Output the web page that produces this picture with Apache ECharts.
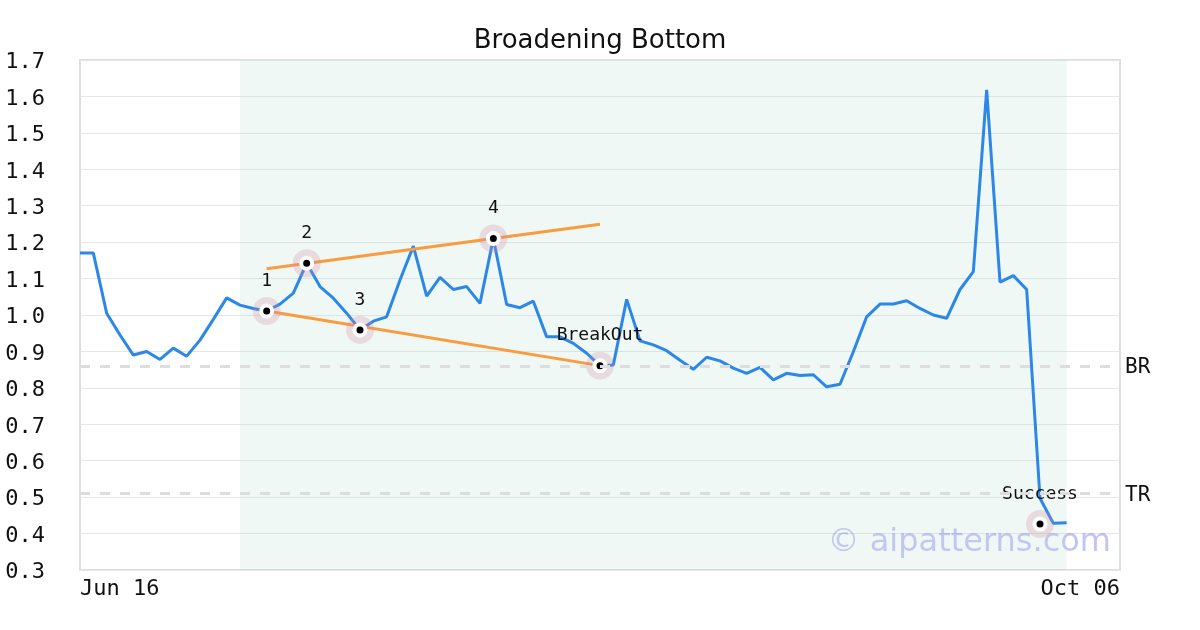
<!DOCTYPE html>
<html>
<head>
<meta charset="utf-8">
<script src="https://cdn.jsdelivr.net/npm/echarts@6/dist/echarts.min.js"></script>
<style>html,body{margin:0;padding:0;background:#fff}#chart{width:1200px;height:630px}</style>
</head>
<body>
<div id="chart"></div>
<script>
const dates = [
 "Jun 16","Jun 17","Jun 18","Jun 19","Jun 20","Jun 23","Jun 24","Jun 25","Jun 26","Jun 27","Jun 30",
 "Jul 01","Jul 02","Jul 03","Jul 07","Jul 08","Jul 09","Jul 10","Jul 11","Jul 14","Jul 15","Jul 16","Jul 17","Jul 18","Jul 21","Jul 22","Jul 23","Jul 24","Jul 25","Jul 28","Jul 29","Jul 30","Jul 31",
 "Aug 01","Aug 04","Aug 05","Aug 06","Aug 07","Aug 08","Aug 11","Aug 12","Aug 13","Aug 14","Aug 15","Aug 18","Aug 19","Aug 20","Aug 21","Aug 22","Aug 25","Aug 26","Aug 27","Aug 28","Aug 29",
 "Sep 02","Sep 03","Sep 04","Sep 05","Sep 08","Sep 09","Sep 10","Sep 11","Sep 12","Sep 15","Sep 16","Sep 17","Sep 18","Sep 19","Sep 22","Sep 23","Sep 24","Sep 25","Sep 26","Sep 29","Sep 30",
 "Oct 01","Oct 02","Oct 03","Oct 06"
];
const prices = [
 1.17,1.17,1.005,0.945,0.89,0.90,0.878,0.909,0.887,0.931,
 0.988,1.047,1.027,1.018,1.011,1.03,1.06,1.142,1.078,1.046,
 1.005,0.959,0.983,0.995,1.096,1.189,1.052,1.103,1.07,1.078,
 1.032,1.21,1.029,1.02,1.038,0.94,0.94,0.922,0.895,0.861,
 0.863,1.043,0.929,0.918,0.902,0.876,0.851,0.884,0.874,0.854,
 0.84,0.856,0.822,0.84,0.834,0.836,0.803,0.81,0.899,0.995,
 1.03,1.03,1.039,1.018,1.0,0.991,1.07,1.119,1.618,1.09,
 1.108,1.07,0.497,0.428,0.43
];
const pointIdx = [14, 17, 21, 31, 39, 72];
const pointVal = [1.011, 1.142, 0.959, 1.21, 0.861, 0.426];
const pointLabel = ["1", "2", "3", "4", "BreakOut", "Success"];
const upperLine = [[14, 1.127], [39, 1.249]];
const lowerLine = [[14, 1.011], [39, 0.861]];
const levelNames = ["BR", "TR"];
const levelVals = [0.86, 0.51];
const patternStart = 12, patternEnd = 74;
const yMin = 0.3, yMax = 1.7, yStep = 0.1;

const mono = "DejaVu Sans Mono";
const chart = echarts.init(document.getElementById('chart'), null, {renderer: 'canvas'});
chart.setOption({
  animation: false,
  title: {
    text: "Broadening Bottom", left: 'center', top: 23,
    textStyle: {fontFamily: "DejaVu Sans", fontSize: 26, fontWeight: 'normal', color: '#111'}
  },
  grid: {left: 80, right: 80, top: 60, bottom: 60, show: true, borderColor: '#dedede', borderWidth: 2, backgroundColor: 'transparent'},
  xAxis: {
    type: 'category', data: dates, boundaryGap: false,
    axisLine: {show: false}, axisTick: {show: false}, splitLine: {show: false},
    axisLabel: {
      interval: (i) => i === 0 || i === dates.length - 1,
      showMinLabel: true, showMaxLabel: true,
      alignMinLabel: 'left', alignMaxLabel: 'right',
      fontFamily: mono, fontSize: 22, color: '#111', margin: 8
    }
  },
  yAxis: {
    type: 'value', min: yMin, max: yMax, interval: yStep,
    axisLine: {show: false}, axisTick: {show: false},
    splitLine: {lineStyle: {color: '#e6e6e6', width: 1}},
    axisLabel: {
      formatter: v => '{t|' + v.toFixed(1) + '}', margin: 35,
      rich: {t: {fontFamily: mono, fontSize: 22, color: '#111', padding: [5, 0, 0, 0]}}
    }
  },
  graphic: [{
    type: 'text', right: 89, top: 527, z: 1,
    style: {text: "© aipatterns.com", fontFamily: "DejaVu Sans", fontSize: 32, fill: 'rgba(80,80,240,0.34)'}
  }],
  series: [
    {
      type: 'line', data: prices, symbol: 'none', z: 2,
      lineStyle: {color: '#2b87e8', width: 3}, itemStyle: {color: '#2b87e8'},
      markArea: {
        silent: true,
        itemStyle: {color: 'rgba(180,220,205,0.2)'},
        data: [[{xAxis: dates[patternStart]}, {xAxis: dates[patternEnd]}]]
      },
      markLine: {
        silent: true, symbol: 'none',
        lineStyle: {color: '#dddddd', width: 3, type: [10, 10]},
        label: {
          position: 'end', distance: 5, formatter: p => '{t|' + p.name + '}',
          rich: {t: {fontFamily: mono, fontSize: 21, color: '#111', padding: [4, 0, 0, 0]}}
        },
        data: levelNames.map((n, i) => ({name: n, yAxis: levelVals[i]}))
      }
    },
    {type: 'line', data: upperLine, symbol: 'none', z: 2, lineStyle: {color: '#f99b3e', width: 3}},
    {type: 'line', data: lowerLine, symbol: 'none', z: 2, lineStyle: {color: '#f99b3e', width: 3}},
    {
      type: 'scatter', z: 3, symbolSize: 28,
      itemStyle: {color: 'rgba(205,135,160,0.26)', opacity: 1},
      label: {show: true, position: 'top', distance: 7, fontFamily: mono, fontSize: 18, color: '#111', formatter: p => pointLabel[p.dataIndex]},
      data: pointIdx.map((x, i) => [x, pointVal[i]])
    },
    {
      type: 'scatter', z: 4, symbolSize: 11,
      itemStyle: {color: '#000', borderColor: '#fff', borderWidth: 4, opacity: 1},
      data: pointIdx.map((x, i) => [x, pointVal[i]])
    }
  ]
});
</script>
</body>
</html>
